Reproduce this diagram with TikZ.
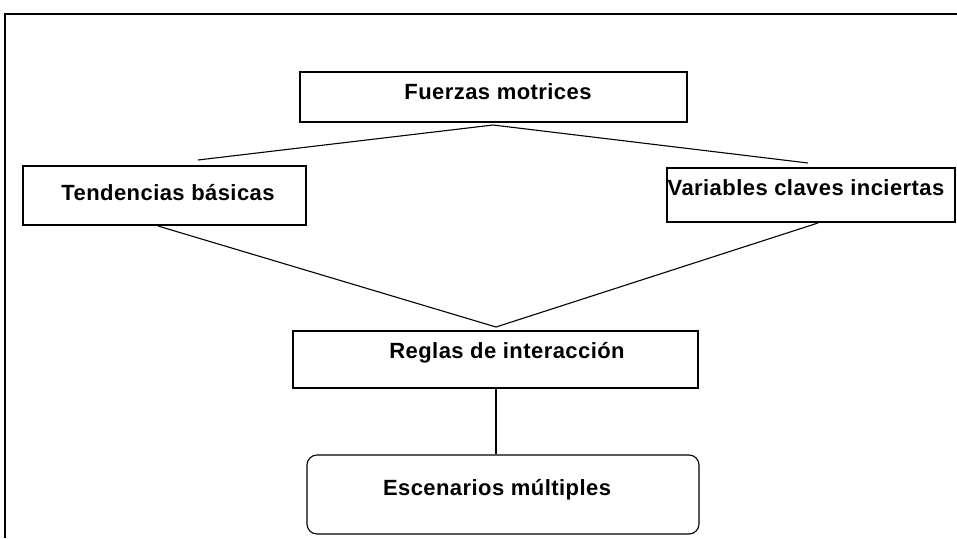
\documentclass[tikz,border=0pt]{standalone}
\usepackage{fontspec}
\setmainfont{Liberation Sans}[LetterSpace=2]
\begin{document}
\begin{tikzpicture}[x=1pt,y=-1pt,
  box/.style={draw,line width=1.1pt,inner sep=0pt},
  lbl/.style={inner sep=0pt,font=\fontsize{22}{25}\selectfont\bfseries},
  conn/.style={line width=1.1pt}]
\useasboundingbox (0,0) rectangle (957,538);
\draw[line width=1.6pt] (5,538) -- (5,14) -- (957,14);
% boxes
\node[box,minimum width=387pt,minimum height=50pt] (F) at (493.5,97) {};
\node[box,minimum width=283pt,minimum height=59pt] (T) at (164.5,195.5) {};
\node[box,minimum width=288pt,minimum height=54pt] (V) at (811,195) {};
\node[box,minimum width=405pt,minimum height=57pt] (R) at (495.5,359.5) {};
\node[box,rounded corners=10pt,minimum width=392pt,minimum height=79pt] (E) at (503,494.5) {};
% texts
\node[lbl] (tF) at (498,92) {Fuerzas motrices};
\node[lbl] (tT) at (168,193) {Tendencias básicas};
\node[lbl] (tV) at (806,188) {Variables claves inciertas};
\node[lbl] (tR) at (507,353) {Reglas de interacción};
\node[lbl] (tE) at (497,490) {Escenarios múltiples};
% connectors
\coordinate (a1) at (493,125);
\coordinate (l1) at (198,160);
\coordinate (r1) at (808,163);
\coordinate (a2) at (496,327);
\coordinate (l2) at (158,226);
\coordinate (r2) at (818,223);
\draw[conn] (l1) -- (a1) -- (r1);
\draw[conn] (l2) -- (a2) -- (r2);
\draw[conn] (R.south -| a2) -- (E.north -| a2);
\end{tikzpicture}
\end{document}
